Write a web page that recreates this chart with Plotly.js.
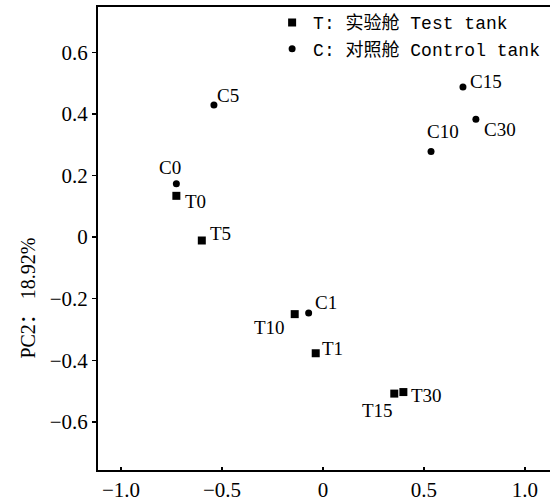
<!DOCTYPE html>
<html>
<head>
<meta charset="utf-8">
<script src="https://cdn.plot.ly/plotly-3.0.1.min.js"></script>
<style>html,body{margin:0;padding:0;background:#fff;}</style>
</head>
<body>
<div id="chart" style="width:550px;height:504px;"></div>
<script>
// Test tank (T) samples
const tNames = ['T0', 'T1', 'T5', 'T10', 'T15', 'T30'];
const tPC1 = [-0.726, -0.036, -0.600, -0.140, 0.353, 0.398];
const tPC2 = [0.134, -0.377, -0.011, -0.250, -0.508, -0.503];
// Control tank (C) samples
const cNames = ['C0', 'C1', 'C5', 'C10', 'C15', 'C30'];
const cPC1 = [-0.726, -0.071, -0.540, 0.535, 0.693, 0.757];
const cPC2 = [0.173, -0.246, 0.429, 0.278, 0.487, 0.383];
// axis ticks
const xTicks = [-1.0, -0.5, 0, 0.5, 1.0];
const xTickText = ['\u22121.0', '\u22120.5', '0', '0.5', '1.0'];
const yTicks = [-0.6, -0.4, -0.2, 0, 0.2, 0.4, 0.6];
const yTickText = ['\u22120.6', '\u22120.4', '\u22120.2', '0', '0.2', '0.4', '0.6'];
const legendNames = ['T: 实验舱 Test tank', 'C: 对照舱 Control tank'];
const yTitle = 'PC2： 18.92%';

// label offsets in pixels (style)
const tShift = {T0: [19, -6], T1: [17, 5], T5: [19, 7], T10: [-25, -13], T15: [-17, -17], T30: [23, -3]};
const cShift = {C0: [-6, 16], C1: [17, 10], C5: [14, 9], C10: [12, 20], C15: [23, 6], C30: [24, -10]};

const serif = 'Liberation Serif, Times New Roman, serif';
const labelFont = {family: serif, size: 19, color: '#000'};

const traces = [
  {x: tPC1, y: tPC2, mode: 'markers', type: 'scatter', name: legendNames[0],
   marker: {symbol: 'square', size: 8, color: '#000'}, cliponaxis: false},
  {x: cPC1, y: cPC2, mode: 'markers', type: 'scatter', name: legendNames[1],
   marker: {symbol: 'circle', size: 7, color: '#000'}, cliponaxis: false}
];

const annotations = [];
tNames.forEach((n, i) => annotations.push({x: tPC1[i], y: tPC2[i], text: n, showarrow: false,
  xshift: tShift[n][0], yshift: tShift[n][1], font: labelFont}));
cNames.forEach((n, i) => annotations.push({x: cPC1[i], y: cPC2[i], text: n, showarrow: false,
  xshift: cShift[n][0], yshift: cShift[n][1], font: labelFont}));
annotations.push({xref: 'paper', yref: 'paper', x: -0.184, y: 0.372, text: yTitle, textangle: -90,
  showarrow: false, font: {family: serif + ', Noto Sans CJK SC', size: 20, color: '#000'}});

const layout = {
  width: 550, height: 504,
  margin: {l: 98, r: 0, t: 7, b: 34},
  paper_bgcolor: '#fff', plot_bgcolor: '#fff',
  showlegend: true,
  legend: {x: 0.383, y: 1.006, xanchor: 'left', yanchor: 'top', bgcolor: 'rgba(0,0,0,0)',
    font: {family: 'Liberation Mono, Noto Sans CJK SC, monospace', size: 18, color: '#000'},
    tracegroupgap: 0, itemwidth: 32},
  xaxis: {range: [-1.114, 1.124], tickvals: xTicks, ticktext: xTickText, showgrid: false, zeroline: false,
    showline: true, linewidth: 2, linecolor: '#000', mirror: true, ticks: 'inside', ticklen: 3, tickwidth: 1.5,
    tickcolor: '#000', tickfont: {family: serif, size: 21, color: '#000'}, automargin: false},
  yaxis: {range: [-0.756, 0.747], tickvals: yTicks, ticktext: yTickText, showgrid: false, zeroline: false,
    showline: true, linewidth: 2, linecolor: '#000', ticks: 'outside', ticklen: 4, tickwidth: 1.5,
    tickcolor: '#000', tickfont: {family: serif, size: 21, color: '#000'}, automargin: false},
  annotations: annotations
};

Plotly.newPlot('chart', traces, layout, {displayModeBar: false, staticPlot: true});
</script>
</body>
</html>
